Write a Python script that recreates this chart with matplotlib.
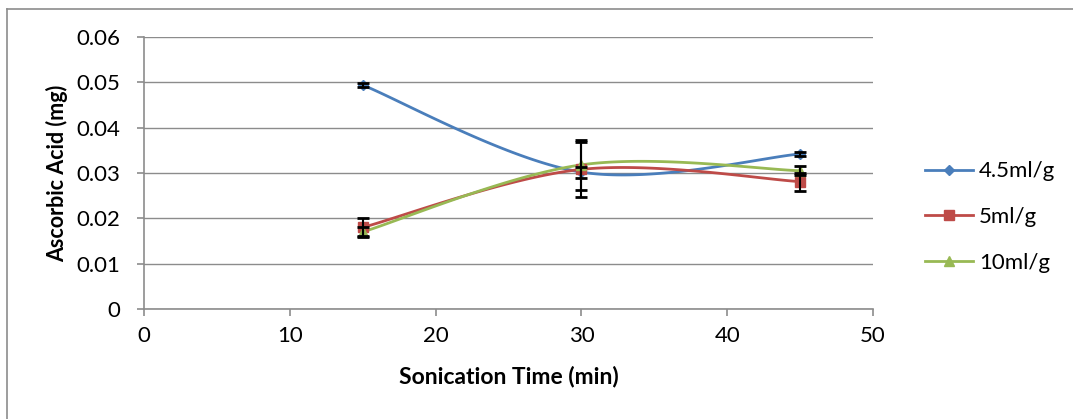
import numpy as np
import matplotlib
matplotlib.use('Agg')
import matplotlib.pyplot as plt
from matplotlib.lines import Line2D

# sonication time (min)
time_min = [15, 30, 45]

# ascorbic acid (mg) per solvent ratio, with error bar half-widths
aa_45 = [0.0494, 0.0302, 0.0342]
err_45 = [0.0005, 0.0012, 0.0004]
aa_5 = [0.0180, 0.0308, 0.0281]
err_5 = [0.0021, 0.0060, 0.0020]
aa_10 = [0.0170, 0.0318, 0.0305]
err_10 = [0.0010, 0.0055, 0.0010]

labels = ['4.5ml/g', '5ml/g', '10ml/g']
colors = ['#4A7EBB', '#BE4B48', '#98B954']
markers = ['D', 's', '^']
msizes = [5.5, 7, 7]

plt.rcParams['font.family'] = ['Lato', 'DejaVu Sans']


def smooth(xs, ys, n=60):
    # Catmull-Rom style curve through the points, like Excel's "smoothed line"
    x = np.asarray(xs, float)
    y = np.asarray(ys, float)
    px = np.concatenate([[x[0]], x, [x[-1]]])
    py = np.concatenate([[y[0]], y, [y[-1]]])
    out_x, out_y = [], []
    for i in range(1, len(px) - 2):
        p0, p1, p2, p3 = [np.array([px[j], py[j]]) for j in (i - 1, i, i + 1, i + 2)]
        c1 = p1 + (p2 - p0) / 6.0
        c2 = p2 - (p3 - p1) / 6.0
        t = np.linspace(0, 1, n)[:, None]
        pts = ((1 - t) ** 3) * p1 + 3 * ((1 - t) ** 2) * t * c1 + 3 * (1 - t) * t ** 2 * c2 + t ** 3 * p2
        out_x.extend(pts[:, 0])
        out_y.extend(pts[:, 1])
    return out_x, out_y


fig = plt.figure(figsize=(10.73, 4.19), dpi=100)
ax = fig.add_axes([0.1342, 0.2625, 0.6794, 0.6492])

series = [(aa_45, err_45), (aa_5, err_5), (aa_10, err_10)]
handles = []
for (vals, errs), lab, c, m, ms in zip(series, labels, colors, markers, msizes):
    sx, sy = smooth(time_min, vals)
    ax.plot(sx, sy, color=c, lw=2, zorder=3)
    ax.plot(time_min, vals, ls='none', marker=m, color=c, ms=ms, zorder=4)
    ax.errorbar(time_min, vals, yerr=errs, fmt='none', ecolor='black',
                elinewidth=1.5, capsize=4, capthick=2, zorder=5)
    handles.append(Line2D([0], [0], color=c, lw=2, marker=m, ms=ms))

ax.set_xlim(0, 50)
ax.set_ylim(0, 0.06)
ax.set_xticks([0, 10, 20, 30, 40, 50])
ax.set_yticks([0, 0.01, 0.02, 0.03, 0.04, 0.05, 0.06])
ax.set_yticklabels(['0', '0.01', '0.02', '0.03', '0.04', '0.05', '0.06'])
ax.yaxis.grid(True, color='#8c8c8c', lw=1)
ax.set_axisbelow(True)
for s in ['top', 'right']:
    ax.spines[s].set_visible(False)
for s in ['left', 'bottom']:
    ax.spines[s].set_color('#8c8c8c')
    ax.spines[s].set_linewidth(1.2)
ax.tick_params(colors='#8c8c8c', labelcolor='black', labelsize=16,
               length=5, width=1.2, direction='out')
ax.tick_params(axis='x', pad=7)
ax.tick_params(axis='y', pad=12)

ax.set_xlabel('Sonication Time (min)', fontsize=16.5, fontweight='bold')
ax.xaxis.set_label_coords(0.5, -0.21)
ax.set_ylabel('Ascorbic Acid (mg)', fontsize=15.5, fontweight='bold')
ax.yaxis.set_label_coords(-0.104, 0.5)

fig.legend(handles, labels, loc='center left', bbox_to_anchor=(0.843, 0.482),
           frameon=False, fontsize=16, handlelength=2.2, labelspacing=1.15,
           handletextpad=0.25)

# chart area border (top and left visible)
fig.add_artist(Line2D([7 / 1073, 7 / 1073], [0, 1 - 9 / 419], color='#8c8c8c', lw=1.2,
                      transform=fig.transFigure))
fig.add_artist(Line2D([7 / 1073, 1], [1 - 9 / 419, 1 - 9 / 419], color='#8c8c8c', lw=1.2,
                      transform=fig.transFigure))

fig.savefig('out.png', dpi=100)
